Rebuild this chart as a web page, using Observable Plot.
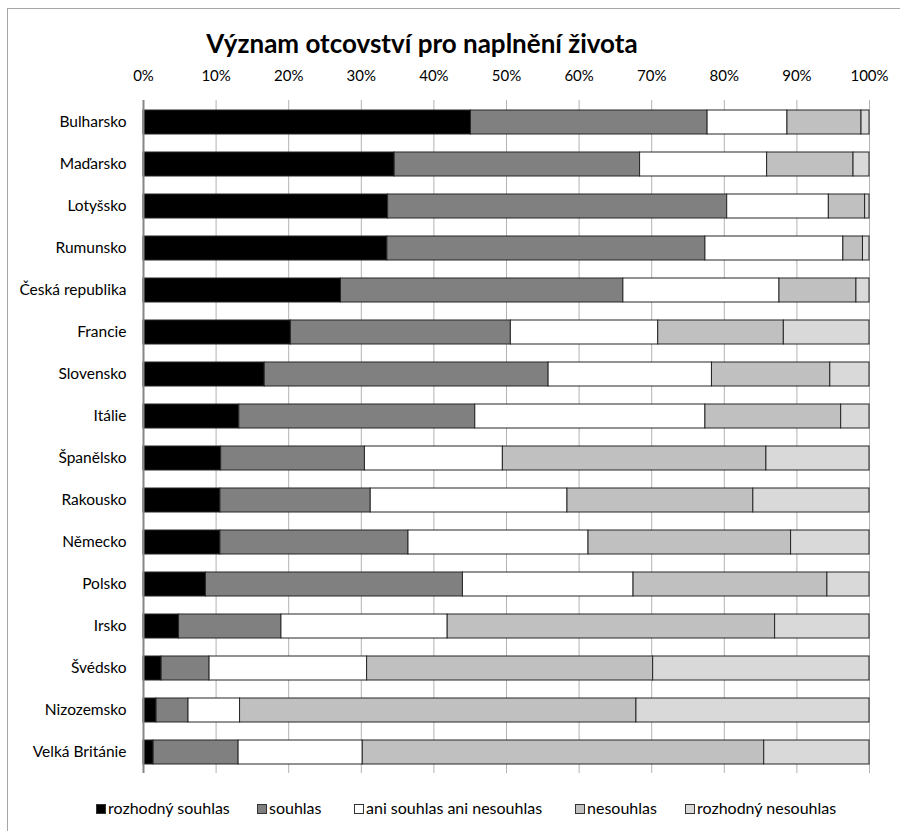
<!DOCTYPE html>
<html>
<head>
<meta charset="utf-8">
<script src="https://cdn.jsdelivr.net/npm/d3@7"></script>
<script src="https://cdn.jsdelivr.net/npm/@observablehq/plot@0.6"></script>
<style>
  html, body { margin: 0; padding: 0; background: #fff; }
  body { width: 900px; height: 831px; overflow: hidden; position: relative; font-family: Lato, "Open Sans", sans-serif; }
  #frame { position: absolute; left: 7px; top: 8px; width: 900px; height: 900px; border-left: 1px solid #a6a6a6; border-top: 1px solid #a6a6a6; }
  #title { position: absolute; left: 0; width: 844px; top: 27px; text-align: center; font-weight: bold; font-size: 26px; line-height: 32px; color: #000; }
  #chart { position: absolute; left: 0; top: 0; }
  #legend { position: absolute; left: 0; top: 798px; width: 900px; height: 20px; font-size: 16px; color: #000; }
  .item { position: absolute; top: 0; white-space: nowrap; line-height: 20px; }
  .sw { display: inline-block; width: 8px; height: 8px; border: 1px solid #333; margin-right: 2px; vertical-align: 0px; }
</style>
</head>
<body>
<div id="frame"></div>
<div id="chart"></div>
<div id="title">Význam otcovství pro naplnění života</div>
<div id="legend"></div>
<script>
const countries = ["Bulharsko","Maďarsko","Lotyšsko","Rumunsko","Česká republika","Francie","Slovensko","Itálie","Španělsko","Rakousko","Německo","Polsko","Irsko","Švédsko","Nizozemsko","Velká Británie"];
const categories = ["rozhodný souhlas","souhlas","ani souhlas ani nesouhlas","nesouhlas","rozhodný nesouhlas"];
const colors = ["#000000","#808080","#ffffff","#c0c0c0","#d9d9d9"];
const rozhodnySouhlas  = [45.1,34.6,33.7,33.6,27.2,20.3,16.7,13.2,10.7,10.6,10.6, 8.6, 4.9, 2.5, 1.8, 1.4];
const souhlas          = [32.6,33.8,46.7,43.8,38.9,30.3,39.1,32.5,19.8,20.7,25.9,35.4,14.1, 6.6, 4.4,11.7];
const aniAni           = [11.0,17.5,14.0,19.0,21.5,20.3,22.5,31.7,19.0,27.1,24.8,23.5,22.9,21.7, 7.1,17.1];
const nesouhlas        = [10.2,11.9, 5.0, 2.7,10.6,17.3,16.3,18.7,36.3,25.6,27.9,26.7,45.1,39.4,54.6,55.3];
const rozhodnyNesouhlas= [ 1.1, 2.2, 0.6, 0.9, 1.8,11.8, 5.4, 3.9,14.2,16.0,10.8, 5.8,13.0,29.8,32.1,14.5];
const xTicks = [0,10,20,30,40,50,60,70,80,90,100];

const series = [rozhodnySouhlas, souhlas, aniAni, nesouhlas, rozhodnyNesouhlas];
const data = [];
series.forEach((vals, si) => {
  vals.forEach((v, ci) => data.push({country: countries[ci], category: categories[si], value: v}));
});

const chart = Plot.plot({
  width: 900,
  height: 790,
  marginTop: 100,
  marginBottom: 17,
  marginLeft: 143,
  marginRight: 31,
  style: {fontFamily: "Lato, 'Open Sans', sans-serif", fontSize: "13px", color: "#000", background: "transparent"},
  x: {domain: [0, 100], label: null},
  y: {domain: countries, paddingInner: 0.43, paddingOuter: 0.215, label: null},
  color: {domain: categories, range: colors},
  marks: [
    Plot.ruleX(xTicks, {stroke: "#b3b3b3", strokeWidth: 1}),
    Plot.barX(data, {x: "value", y: "country", fill: "category", stroke: "#262626", strokeWidth: 1, inset: 0, order: null}),
    Plot.ruleX([0], {stroke: "#868686", strokeWidth: 2}),
    Plot.axisX({anchor: "top", ticks: xTicks, tickFormat: d => d + "%", tickSize: 0, tickPadding: 20, fontSize: 15, label: null}),
    Plot.axisY({anchor: "left", tickSize: 0, tickPadding: 17, fontSize: 15.5, label: null})
  ]
});
document.getElementById("chart").appendChild(chart);

const legendX = [96, 257, 354, 575, 685];
const legend = document.getElementById("legend");
categories.forEach((c, i) => {
  const it = document.createElement("div");
  it.className = "item";
  it.style.left = legendX[i] + "px";
  const sw = document.createElement("span");
  sw.className = "sw";
  sw.style.background = colors[i];
  it.appendChild(sw);
  it.appendChild(document.createTextNode(c));
  legend.appendChild(it);
});
</script>
</body>
</html>
